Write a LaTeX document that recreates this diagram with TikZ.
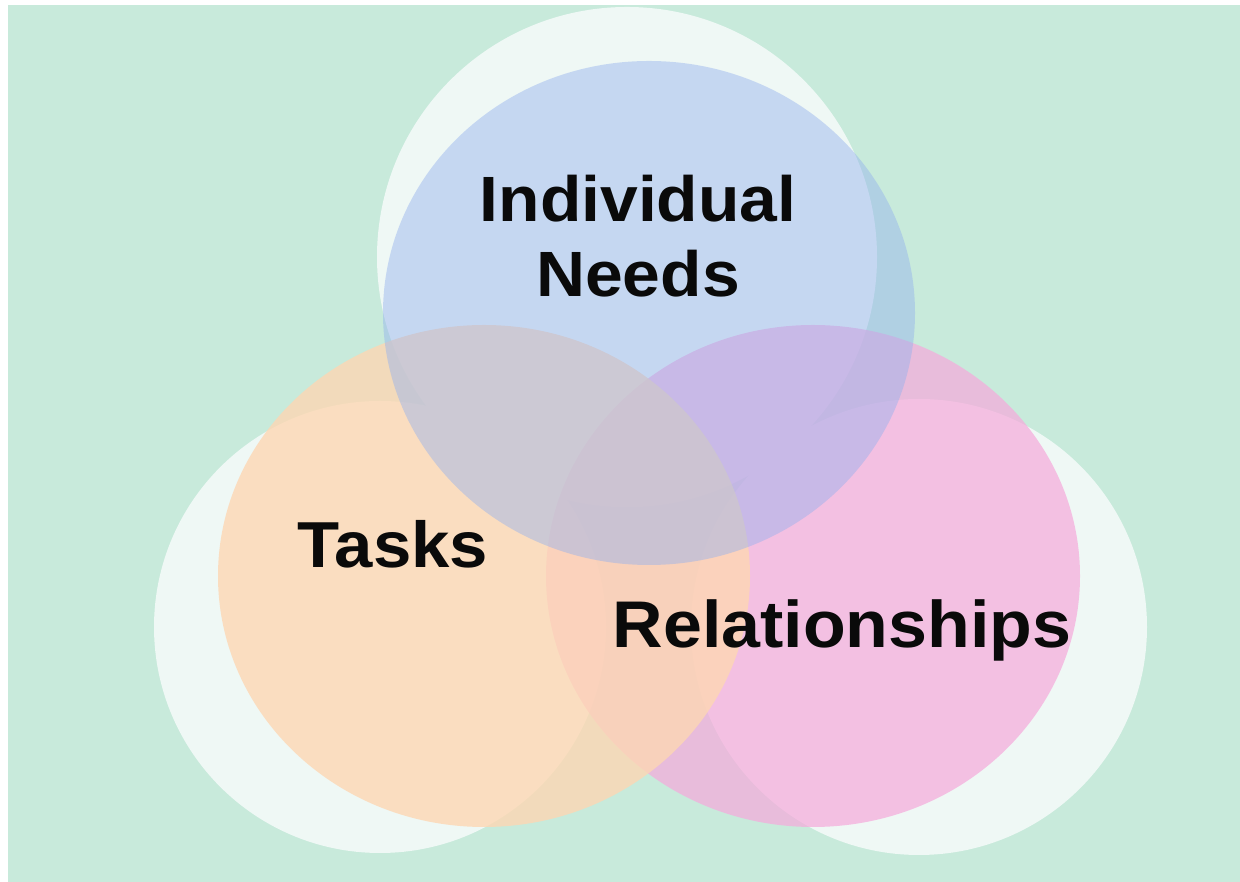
\documentclass[tikz,border=0pt]{standalone}
\usepackage{fontspec}
\setmainfont{Liberation Sans}
\usepackage{graphicx}
\definecolor{bggreen}{RGB}{200,234,219}
\definecolor{shadewhite}{RGB}{239,248,245}
\definecolor{cblue}{RGB}{148,177,238}
\definecolor{corange}{RGB}{253,215,179}
\definecolor{cpink}{RGB}{246,169,219}
\definecolor{ink}{RGB}{10,10,10}
\newcommand{\lab}[2]{\scalebox{1.06}[1]{\fontsize{#1}{#1}\selectfont\bfseries #2}}
\begin{document}
\begin{tikzpicture}[x=1pt,y=1pt,
  halo/.style={fill=shadewhite},
  bluedisc/.style={fill=cblue,fill opacity=0.45},
  orangedisc/.style={fill=corange,fill opacity=0.8},
  pinkdisc/.style={fill=cpink,fill opacity=0.7},
  labeltext/.style={text=ink,inner sep=0pt,anchor=base}]
\useasboundingbox (0,0) rectangle (1240,882);
\fill[white] (0,0) rectangle (1240,882);
\fill[bggreen] (8,0) rectangle (1240,877);
% white halos
\fill[halo] (627,625) circle [radius=250];
\fill[halo] (380,255) circle [radius=226];
\fill[halo] (919,255) circle [radius=228];
% coloured discs
\fill[pinkdisc] (813,306) ellipse [x radius=267, y radius=251];
\fill[orangedisc] (484,306) ellipse [x radius=266, y radius=251];
\fill[bluedisc] (649,569) ellipse [x radius=266, y radius=252];
% labels
\node[labeltext] (ind) at (638,660) {\lab{64}{Individual}};
\node[labeltext] (needs) at (638,585) {\lab{64}{Needs}};
\node[labeltext] (tasks) at (393,314) {\lab{65}{Tasks}};
\node[labeltext] (rel) at (842,234) {\lab{66}{Relationships}};
\end{tikzpicture}
\end{document}
